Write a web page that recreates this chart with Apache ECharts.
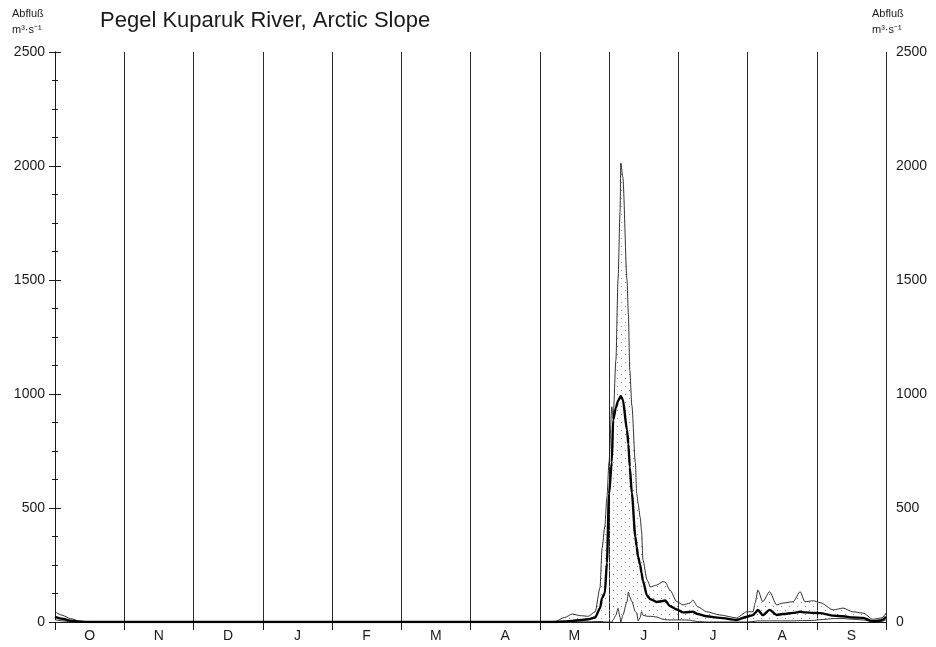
<!DOCTYPE html>
<html>
<head>
<meta charset="utf-8">
<script src="https://cdn.jsdelivr.net/npm/echarts@6/dist/echarts.min.js"></script>
<style>
  html, body { margin: 0; padding: 0; background: #fff; }
  #chart { width: 936px; height: 647px; }
</style>
</head>
<body>
<div id="chart"></div>
<script>
// hydrological year Oct..Sep, position in months from 1 Oct
var months = ['O', 'N', 'D', 'J', 'F', 'M', 'A', 'M', 'J', 'J', 'A', 'S'];
var yTicks = [0, 500, 1000, 1500, 2000, 2500];

var t = [0, 0.10, 0.22, 0.36, 0.51, 7.00, 7.22, 7.36, 7.47, 7.58, 7.70, 7.80, 7.87, 7.90, 7.94,
  7.97, 8.00, 8.04, 8.06, 8.10, 8.13, 8.16, 8.17, 8.20, 8.26, 8.28, 8.30, 8.33, 8.38, 8.40,
  8.42, 8.45, 8.47, 8.49, 8.55, 8.60, 8.69, 8.78, 8.81, 8.88, 8.98, 9.07, 9.17, 9.21, 9.28,
  9.41, 9.60, 9.84, 9.99, 10.08, 10.11, 10.15, 10.22, 10.32, 10.42, 10.51, 10.66, 10.76, 10.83,
  10.95, 11.05, 11.24, 11.38, 11.52, 11.67, 11.81, 11.94, 12.00];

// highest daily discharge
var qMax = [45, 30, 15, 4, 0, 0, 2, 20, 35, 28, 25, 45, 150, 323, 420,
  548, 700, 944, 895, 1150, 1500, 1800, 2013, 1950, 1500, 1350, 1105, 950, 700, 565,
  520, 460, 400, 272, 184, 154, 162, 177, 175, 140, 89, 75, 83, 96, 67,
  45, 31, 18, 45, 45, 83, 140, 89, 133, 75, 83, 89, 133, 89,
  93, 85, 53, 61, 45, 39, 12, 18, 39];

// mean daily discharge
var qMean = [22, 14, 6, 1, 0, 0, 0, 2, 5, 8, 12, 20, 60, 105, 127,
  260, 560, 700, 886, 940, 970, 985, 990, 975, 842, 780, 680, 565, 374, 330,
  286, 250, 215, 180, 115, 100, 88, 92, 95, 70, 55, 42, 44, 45, 35,
  25, 18, 9, 23, 30, 40, 53, 30, 53, 31, 35, 40, 45, 42,
  40, 39, 28, 25, 20, 18, 3, 8, 23];

// lowest daily discharge
var qMin = [10, 5, 2, 0, 0, 0, 0, 0, 0, 0, 1, 2, 2, 2, 0,
  0, 0, 0, 10, 30, 60, 20, 0, 30, 90, 131, 110, 90, 45, 40,
  5, 20, 45, 30, 25, 25, 22, 12, 10, 9, 9, 9, 8, 5, 2,
  0, 0, 0, 0, 2, 3, 5, 5, 5, 5, 5, 5, 6, 6,
  7, 10, 15, 15, 12, 9, 1, 3, 10];

function pairs(vals) {
  return t.map(function (x, i) { return [x, vals[i]]; });
}

// stipple pattern for the range between min and max
var dots = document.createElement('canvas');
dots.width = 8;
dots.height = 8;
var dctx = dots.getContext('2d');
dctx.fillStyle = '#8c8c8c';
dctx.fillRect(1, 2, 1, 1);
dctx.fillRect(5, 6, 1, 1);

var axisFont = "'Liberation Sans', Arial, sans-serif";
var ink = '#1a1a1a';

var chart = echarts.init(document.getElementById('chart'));

var yAxisBase = {
  type: 'value',
  min: 0,
  max: 2500,
  interval: 500,
  axisLine: { show: true, lineStyle: { color: ink, width: 1 } },
  axisTick: { show: true, length: 6, lineStyle: { color: ink } },
  minorTick: { show: true, splitNumber: 4, length: 3, lineStyle: { color: ink } },
  splitLine: { show: false },
  axisLabel: {
    color: ink, fontSize: 14, fontFamily: axisFont, margin: 10,
    formatter: function (v) { return yTicks.indexOf(v) >= 0 ? String(v) : ''; }
  }
};

var smallText = { fontSize: 11, fontFamily: axisFont, fill: ink };

chart.setOption({
  animation: false,
  backgroundColor: '#fff',
  title: {
    text: 'Pegel Kuparuk River, Arctic Slope',
    left: 95,
    top: 5,
    textStyle: { color: ink, fontSize: 22, fontWeight: 'normal', fontFamily: "'Liberation Sans', Arial, sans-serif" }
  },
  graphic: [
    { type: 'text', left: 12, top: 8, style: Object.assign({ text: 'Abfluß' }, smallText) },
    { type: 'text', left: 12, top: 24, style: Object.assign({ text: 'm³·s⁻¹' }, smallText) },
    { type: 'text', left: 872, top: 8, style: Object.assign({ text: 'Abfluß' }, smallText) },
    { type: 'text', left: 872, top: 24, style: Object.assign({ text: 'm³·s⁻¹' }, smallText) }
  ],
  grid: { left: 55, right: 50, top: 52, bottom: 25, containLabel: false },
  xAxis: [
    {
      type: 'value', min: 0, max: 12, interval: 1,
      axisLine: { show: true, onZero: false, lineStyle: { color: ink } },
      axisTick: { show: true, length: 8, lineStyle: { color: ink } },
      axisLabel: { show: false },
      splitLine: { show: true, lineStyle: { color: '#2a2a2a', width: 1 } }
    },
    {
      type: 'value', min: 0, max: 12, interval: 0.5, position: 'bottom',
      axisLine: { show: false }, axisTick: { show: false }, splitLine: { show: false },
      axisLabel: {
        color: ink, fontSize: 14, fontFamily: axisFont, margin: 7,
        formatter: function (v) { return v % 1 ? months[Math.floor(v)] : ''; }
      }
    },
    {
      type: 'value', min: 0, max: 12, position: 'top',
      axisLine: { show: true, lineStyle: { color: ink } },
      axisTick: { show: false }, axisLabel: { show: false }, splitLine: { show: false }
    }
  ],
  yAxis: [
    Object.assign({}, yAxisBase, { position: 'left' }),
    Object.assign({}, yAxisBase, { position: 'right' })
  ],
  series: [
    {
      name: 'max', type: 'line', data: pairs(qMax),
      symbol: 'none', smooth: 0.25, smoothMonotone: 'x',
      lineStyle: { color: ink, width: 0.9 },
      areaStyle: { color: { image: dots, repeat: 'repeat' }, opacity: 1 }, z: 2
    },
    {
      name: 'min', type: 'line', data: pairs(qMin),
      symbol: 'none', smooth: 0.25, smoothMonotone: 'x',
      lineStyle: { color: ink, width: 0.9 },
      areaStyle: { color: '#fff', opacity: 1 }, z: 3
    },
    {
      name: 'mean', type: 'line', data: pairs(qMean),
      symbol: 'none', smooth: 0.25, smoothMonotone: 'x',
      lineStyle: { color: '#000', width: 2.4 }, z: 4
    }
  ]
});
</script>
</body>
</html>
